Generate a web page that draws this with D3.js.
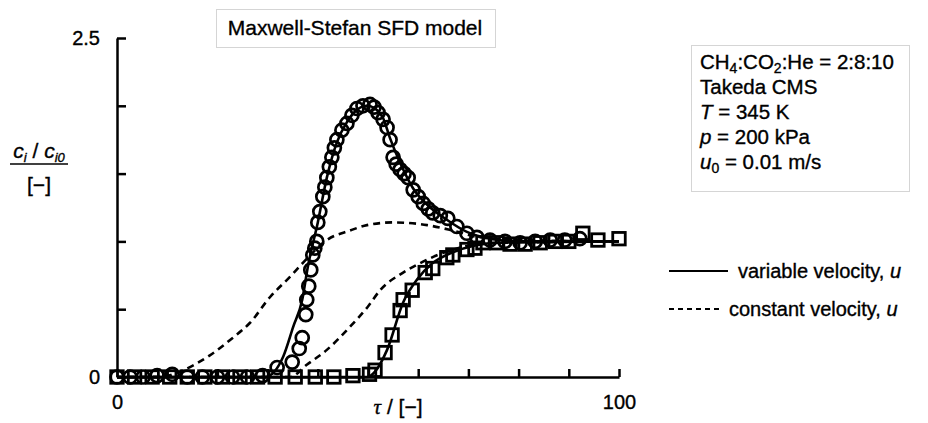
<!DOCTYPE html>
<html>
<head>
<meta charset="utf-8">
<script src="https://cdn.jsdelivr.net/npm/d3@7"></script>
<style>
  html, body { margin: 0; padding: 0; background: #fff; }
  svg { display: block; }
  text { font-family: "Liberation Sans", Arial, Helvetica, sans-serif; fill: #000; stroke: #000; stroke-width: 0.35px; }
</style>
</head>
<body>
<svg id="chart" width="928" height="423"></svg>
<script>
// ---------- data ----------
const circleTau = [0, 2.6, 5.2, 8, 11, 14, 17, 20, 23, 26, 29, 31.9, 34.9, 36.3, 36.9, 37.6, 37.8, 38.2, 38.6, 39.0, 39.4, 39.8, 40.0, 40.4, 41.0, 41.4, 41.8, 42.3, 42.8, 43.3, 43.8, 44.8, 45.8, 46.8, 47.8, 49.0, 50.4, 51.2, 52.0, 53.0, 53.8, 54.4, 55.0, 55.6, 56.4, 57.2, 58.0, 59.0, 60.0, 61.0, 62.0, 62.9, 64.4, 65.9, 67.7, 69.7, 71.7, 74.3, 77.3, 80.3, 83.3, 86.3, 89.2, 92.2];
const circleC   = [0, 0, 0, 0.01, 0.02, 0, 0, 0, 0, 0, 0.01, 0.07, 0.11, 0.21, 0.29, 0.46, 0.57, 0.67, 0.79, 0.90, 0.95, 1.00, 1.14, 1.22, 1.33, 1.40, 1.47, 1.55, 1.62, 1.69, 1.75, 1.82, 1.87, 1.93, 1.98, 2.00, 2.01, 1.99, 1.95, 1.90, 1.84, 1.75, 1.62, 1.57, 1.53, 1.50, 1.47, 1.38, 1.33, 1.28, 1.24, 1.21, 1.19, 1.17, 1.11, 1.06, 1.03, 1.01, 1.00, 0.99, 1.00, 1.01, 1.01, 1.02];

const squareTau = [0, 3.5, 7, 10.5, 14, 17.5, 21, 24.5, 28, 31.5, 35.5, 39.5, 43.2, 47, 50.3, 51.4, 53.4, 54.8, 56.4, 57.0, 58.8, 61.4, 62.9, 65.7, 66.9, 69.7, 71.3, 72.9, 75.7, 78.3, 81.3, 84.3, 87.3, 90, 92.8, 95.8, 100];
const squareC   = [0, 0, 0, 0, 0, 0, 0, 0, 0, 0, 0, 0, 0, 0.01, 0.02, 0.05, 0.18, 0.31, 0.49, 0.57, 0.64, 0.77, 0.80, 0.88, 0.90, 0.94, 0.95, 0.99, 0.99, 0.98, 0.98, 0.99, 1.00, 1.00, 1.06, 1.01, 1.02];

// model curves: variable velocity (solid), constant velocity (dashed)
const varCircTau = [0, 29.5, 33.1, 35.1, 36.9, 38.0, 40.0, 41.8, 43.8, 45.8, 47.8, 49.8, 51.4, 53.0, 54.4, 56.4, 59.0, 61.8, 65.7, 69.7, 74.3, 80.3, 100];
const varCircC   = [0, 0, 0.15, 0.37, 0.57, 0.81, 1.14, 1.47, 1.73, 1.88, 1.97, 2.00, 1.98, 1.91, 1.76, 1.58, 1.39, 1.27, 1.16, 1.07, 1.02, 1.00, 1.00];

const conCircTau = [0, 8.6, 12.5, 18.5, 23.1, 26.5, 30.5, 34.5, 37.5, 41.8, 46.4, 49.8, 55.0, 61.8, 66.9, 72.3, 80.3, 100];
const conCircC   = [0, 0, 0.04, 0.16, 0.29, 0.40, 0.59, 0.74, 0.86, 1.01, 1.08, 1.12, 1.14, 1.12, 1.08, 1.03, 1.01, 1.00];

const varSqTau = [0, 49.8, 51.4, 53.8, 57.0, 59.8, 62.9, 66.9, 71.3, 76.3, 100];
const varSqC   = [0, 0, 0.04, 0.20, 0.55, 0.72, 0.84, 0.92, 0.97, 0.99, 1.00];

const conSqTau = [0, 34.5, 37.8, 41.8, 46.4, 50.0, 52.4, 57.0, 60.4, 65.3, 70.3, 76.3, 100];
const conSqC   = [0, 0, 0.09, 0.20, 0.37, 0.52, 0.64, 0.77, 0.84, 0.92, 0.97, 0.99, 1.00];

const xTicks = [0, 10, 20, 30, 40, 50, 60, 70, 80, 90, 100];
const xLabels = [0, 100];
const yTicks = [0, 0.5, 1.0, 1.5, 2.0, 2.5];
const yLabels = [0, 2.5];

const titleText = "Maxwell-Stefan SFD model";
const legendLabels = ["variable velocity, ", "constant velocity, "];

// ---------- drawing ----------
const svg = d3.select("#chart");
const x = d3.scaleLinear().domain([0, 100]).range([117, 619]);
const y = d3.scaleLinear().domain([0, 2.5]).range([377, 38]);

const zip = (a, b) => a.map((v, i) => [v, b[i]]);
const line = d3.line().x(d => x(d[0])).y(d => y(d[1])).curve(d3.curveMonotoneX);

// axes
const xAxis = d3.axisBottom(x).tickValues(xTicks).tickSizeInner(-8).tickSizeOuter(0).tickPadding(18)
  .tickFormat(d => xLabels.includes(d) ? d3.format("d")(d) : "");
const gx = svg.append("g").attr("transform", `translate(0,${y(0)})`).call(xAxis);
gx.select(".domain").attr("stroke", "#000").attr("stroke-width", 2.5);
gx.selectAll(".tick line").attr("stroke", "#000").attr("stroke-width", 2.5);
gx.selectAll(".tick text").attr("font-size", 20).attr("font-family", "Liberation Sans, Arial, sans-serif")
  .attr("stroke", "#000").attr("stroke-width", 0.35);

const yAxis = d3.axisLeft(y).tickValues(yTicks).tickSizeInner(-9).tickSizeOuter(0).tickPadding(17)
  .tickFormat(d => yLabels.includes(d) ? (d === 0 ? "0" : d3.format(".1f")(d)) : "");
const gy = svg.append("g").attr("transform", `translate(${x(0)},0)`).call(yAxis);
gy.select(".domain").attr("stroke", "#000").attr("stroke-width", 2.5);
gy.selectAll(".tick line").attr("stroke", "#000").attr("stroke-width", 2.5);
gy.selectAll(".tick text").attr("font-size", 20).attr("font-family", "Liberation Sans, Arial, sans-serif")
  .attr("stroke", "#000").attr("stroke-width", 0.35);

// curves
const curves = [
  [zip(conCircTau, conCircC), "7,5"],
  [zip(conSqTau, conSqC), "7,5"],
  [zip(varCircTau, varCircC), null],
  [zip(varSqTau, varSqC), null]
];
curves.forEach(([data, dash]) => {
  svg.append("path").datum(data).attr("d", line)
    .attr("fill", "none").attr("stroke", "#000").attr("stroke-width", 2.6)
    .attr("stroke-dasharray", dash);
});

// markers
const sq = 12.5;
svg.append("g").selectAll("rect").data(zip(squareTau, squareC)).join("rect")
  .attr("x", d => x(d[0]) - sq / 2).attr("y", d => y(d[1]) - sq / 2)
  .attr("width", sq).attr("height", sq)
  .attr("fill", "none").attr("stroke", "#000").attr("stroke-width", 2.8);
svg.append("g").selectAll("circle").data(zip(circleTau, circleC)).join("circle")
  .attr("cx", d => x(d[0])).attr("cy", d => y(d[1])).attr("r", 6.5)
  .attr("fill", "none").attr("stroke", "#000").attr("stroke-width", 2.7);

// axis labels
const xl = svg.append("text").attr("x", 398).attr("y", 414).attr("text-anchor", "middle").attr("font-size", 21);
xl.append("tspan").attr("font-family", "Liberation Serif, serif").attr("font-style", "italic").text("τ");
xl.append("tspan").text(" / [−]");

const yl = svg.append("text").attr("x", 39).attr("y", 158).attr("text-anchor", "middle").attr("font-size", 21);
yl.append("tspan").attr("font-style", "italic").text("c");
yl.append("tspan").attr("font-style", "italic").attr("font-size", 13).attr("dy", 4).text("i");
yl.append("tspan").attr("dy", -4).text(" / ");
yl.append("tspan").attr("font-style", "italic").text("c");
yl.append("tspan").attr("font-size", 13).attr("dy", 4).attr("font-style", "italic").text("i0");
svg.append("line").attr("x1", 10).attr("x2", 68).attr("y1", 164).attr("y2", 164).attr("stroke", "#000").attr("stroke-width", 1.4);
svg.append("text").attr("x", 39).attr("y", 192).attr("text-anchor", "middle").attr("font-size", 21).text("[−]");

// title box
svg.append("rect").attr("x", 216.5).attr("y", 9.5).attr("width", 279).attr("height", 38)
  .attr("fill", "none").attr("stroke", "#aaa").attr("stroke-width", 1).attr("stroke-dasharray", "1,1");
svg.append("text").attr("x", 355).attr("y", 35).attr("text-anchor", "middle").attr("font-size", 21).text(titleText);

// info box
svg.append("rect").attr("x", 691.5).attr("y", 45.5).attr("width", 218).attr("height", 146)
  .attr("fill", "none").attr("stroke", "#aaa").attr("stroke-width", 1).attr("stroke-dasharray", "1,1");
const ix = 700, fs = 20.5;
const l1 = svg.append("text").attr("x", ix).attr("y", 69).attr("font-size", fs);
l1.append("tspan").text("CH");
l1.append("tspan").attr("font-size", 14).attr("dy", 4).text("4");
l1.append("tspan").attr("dy", -4).text(":CO");
l1.append("tspan").attr("font-size", 14).attr("dy", 4).text("2");
l1.append("tspan").attr("dy", -4).text(":He = 2:8:10");
svg.append("text").attr("x", ix).attr("y", 94).attr("font-size", fs).text("Takeda CMS");
const l3 = svg.append("text").attr("x", ix).attr("y", 119).attr("font-size", fs);
l3.append("tspan").attr("font-style", "italic").text("T");
l3.append("tspan").text(" = 345 K");
const l4 = svg.append("text").attr("x", ix).attr("y", 144).attr("font-size", fs);
l4.append("tspan").attr("font-style", "italic").text("p");
l4.append("tspan").text(" = 200 kPa");
const l5 = svg.append("text").attr("x", ix).attr("y", 169).attr("font-size", fs);
l5.append("tspan").attr("font-style", "italic").text("u");
l5.append("tspan").attr("font-size", 14).attr("dy", 4).text("0");
l5.append("tspan").attr("dy", -4).text(" = 0.01 m/s");

// legend
const legY = [271, 309];
const legDash = [null, "5,4"];
const legX2 = [728, 720];
const legTx = [738, 729];
legendLabels.forEach((lab, i) => {
  svg.append("line").attr("x1", 669).attr("x2", legX2[i]).attr("y1", legY[i]).attr("y2", legY[i])
    .attr("stroke", "#000").attr("stroke-width", 2.2).attr("stroke-dasharray", legDash[i]);
  const t = svg.append("text").attr("x", legTx[i]).attr("y", legY[i] + 7).attr("font-size", 20);
  t.append("tspan").text(lab);
  t.append("tspan").attr("font-style", "italic").text("u");
});
</script>
</body>
</html>
